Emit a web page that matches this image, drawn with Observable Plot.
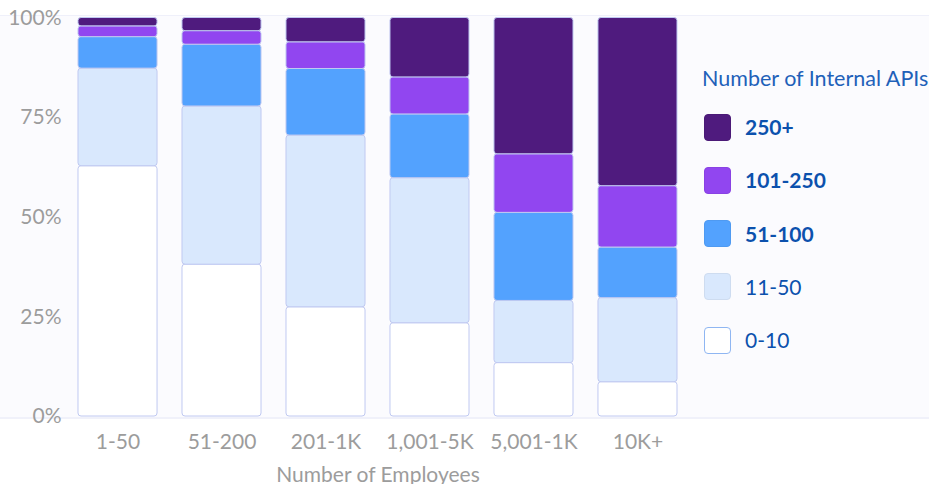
<!DOCTYPE html>
<html>
<head>
<meta charset="utf-8">
<script src="https://cdn.jsdelivr.net/npm/d3@7"></script>
<script src="https://cdn.jsdelivr.net/npm/@observablehq/plot@0.6"></script>
<style>
  html, body { margin: 0; padding: 0; background: #ffffff; }
  #wrap { position: relative; width: 929px; height: 484px; font-family: Lato, sans-serif; }
  #panel { position: absolute; left: 0; top: 15px; width: 929px; height: 401px; background: #fbfbfe; border-top: 1.5px solid #eff0fa; border-bottom: 2px solid #f0f1fa; }
  #wrap svg { position: absolute; left: 0; top: 0; }
  #legend { position: absolute; left: 0; top: 0; }
  .ltitle { position: absolute; left: 702px; top: 66px; font-size: 21.5px; line-height: 24px; color: #1f61b9; white-space: nowrap; }
  .item { position: absolute; left: 704px; height: 27px; }
  .sw { position: absolute; left: 0; top: 0; width: 27px; height: 27px; border-radius: 4px; box-sizing: border-box; }
  .lab { position: absolute; left: 41px; top: 1.5px; font-size: 21px; line-height: 24px; color: #0c51ad; white-space: nowrap; }
</style>
</head>
<body>
<div id="wrap"><div id="panel"></div></div>
<script>
// Company size categories (x axis)
const sizes = ["1-50", "51-200", "201-1K", "1,001-5K", "5,001-1K", "10K+"];
// Internal API buckets (stack order, bottom to top)
const apiBuckets = ["0-10", "11-50", "51-100", "101-250", "250+"];
const bucketColors = ["#ffffff", "#d9e8fd", "#53a2fe", "#9146f0", "#4f1b7e"];
// Percent shares per bucket, one value per company size
const v0_10    = [62.8, 38.1, 27.4, 23.4, 13.4, 8.6];
const v11_50   = [24.5, 39.7, 43.1, 36.4, 15.6, 21.1];
const v51_100  = [7.9, 15.5, 16.7, 16.0, 22.1, 12.7];
const v101_250 = [2.7, 3.4, 6.7, 9.3, 14.7, 15.4];
const v250p    = [2.1, 3.3, 6.1, 14.9, 34.2, 42.2];
const yTicks = [0, 25, 50, 75, 100];
const legendOrder = ["250+", "101-250", "51-100", "11-50", "0-10"];
const boldLabels = ["250+", "101-250", "51-100"];

const series = [v0_10, v11_50, v51_100, v101_250, v250p];
const rows = [];
sizes.forEach((s, i) => {
  apiBuckets.forEach((b, j) => rows.push({size: s, bucket: b, value: series[j][i]}));
});

const chart = Plot.plot({
  width: 929,
  height: 484,
  marginLeft: 65,
  marginRight: 239,
  marginTop: 17.5,
  marginBottom: 68,
  style: {fontFamily: "Lato, sans-serif", fontSize: "21px", color: "#9c9c9c", background: "transparent", overflow: "visible"},
  x: {domain: sizes, paddingInner: 0.24, paddingOuter: 0.125, align: 0.5, round: false, tickSize: 0, tickPadding: 18, label: "Number of Employees", labelAnchor: "center", labelOffset: 65},
  y: {domain: [0, 100], ticks: yTicks, tickFormat: d => d + "%", tickSize: 0, tickPadding: 4, label: null},
  color: {domain: apiBuckets, range: bucketColors},
  marks: [
    Plot.barY(rows, {x: "size", y: "value", fill: "bucket", order: apiBuckets, stroke: "#c0c9f1", strokeWidth: 1, rx: 3})
  ]
});

const wrap = document.getElementById("wrap");
wrap.appendChild(chart);

const legend = document.createElement("div");
legend.id = "legend";
const title = document.createElement("div");
title.className = "ltitle";
title.textContent = "Number of Internal APIs";
legend.appendChild(title);
legendOrder.forEach((b, i) => {
  const item = document.createElement("div");
  item.className = "item";
  item.style.top = (113.5 + i * 53.25) + "px";
  const sw = document.createElement("div");
  sw.className = "sw";
  const c = bucketColors[apiBuckets.indexOf(b)];
  sw.style.background = c;
  sw.style.border = b === "0-10" ? "1.5px solid #8fb6f2" : "1px solid " + d3.color(c).darker(0.15);
  const lab = document.createElement("div");
  lab.className = "lab";
  lab.textContent = b;
  lab.style.fontWeight = boldLabels.includes(b) ? "700" : "400";
  item.appendChild(sw);
  item.appendChild(lab);
  legend.appendChild(item);
});
wrap.appendChild(legend);
</script>
</body>
</html>
